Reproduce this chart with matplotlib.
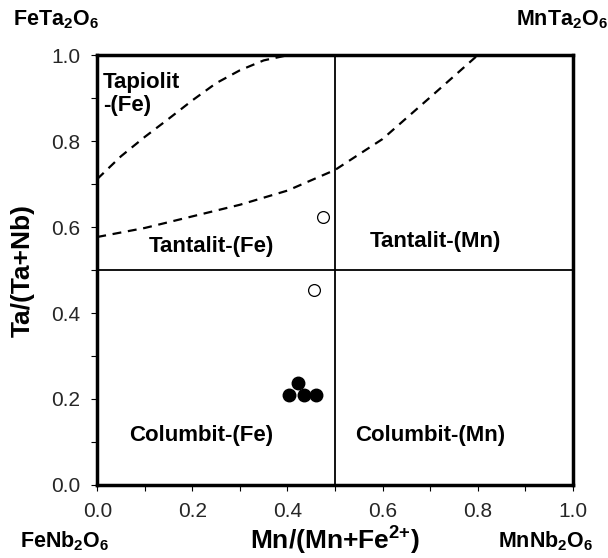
import matplotlib
matplotlib.use("Agg")
import matplotlib.pyplot as plt
import numpy as np
from matplotlib.ticker import MultipleLocator

plt.rcParams['font.family'] = ['Liberation Sans', 'DejaVu Sans']
plt.rcParams['mathtext.fontset'] = 'custom'
plt.rcParams['mathtext.rm'] = 'Liberation Sans'
plt.rcParams['mathtext.bf'] = 'Liberation Sans:bold'

# samples
filled_x = [0.403, 0.422, 0.435, 0.46]
filled_y = [0.209, 0.237, 0.209, 0.209]
open_x = [0.475, 0.456]
open_y = [0.623, 0.453]

# field boundaries (dashed)
upper_x = [0.0, 0.05, 0.1, 0.15, 0.2, 0.25, 0.3, 0.35, 0.40]
upper_y = [0.712, 0.765, 0.81, 0.852, 0.895, 0.935, 0.965, 0.988, 1.0]
lower_x = [0.0, 0.1, 0.2, 0.3, 0.4, 0.5, 0.6, 0.7, 0.8]
lower_y = [0.577, 0.598, 0.625, 0.652, 0.685, 0.733, 0.805, 0.902, 1.0]

fig = plt.figure(figsize=(6.08, 5.58), dpi=100)
ax = fig.add_axes([0.16, 0.131, 0.782, 0.77])

ax.plot(upper_x, upper_y, 'k--', lw=1.6, dashes=(4, 3))
ax.plot(lower_x, lower_y, 'k--', lw=1.6, dashes=(4, 3))
ax.axvline(0.5, color='k', lw=1.3)
ax.axhline(0.5, color='k', lw=1.3)

ax.plot(filled_x, filled_y, 'o', color='k', ms=9, zorder=5)
ax.plot(open_x, open_y, 'o', mfc='white', mec='k', mew=0.9, ms=8.5, zorder=5)

ax.set_xlim(0, 1)
ax.set_ylim(0, 1)
ax.xaxis.set_major_locator(MultipleLocator(0.2))
ax.yaxis.set_major_locator(MultipleLocator(0.2))
ax.xaxis.set_minor_locator(MultipleLocator(0.1))
ax.yaxis.set_minor_locator(MultipleLocator(0.1))
ax.xaxis.set_major_formatter(lambda v, p: f"{v:.1f}")
ax.yaxis.set_major_formatter(lambda v, p: f"{v:.1f}")
ax.tick_params(which='both', direction='out', length=4, width=0.8, labelsize=15, colors='k')
ax.tick_params(labelcolor='#262626', pad=8)
for s in ax.spines.values():
    s.set_linewidth(2.5)

ax.set_xlabel(r'Mn/(Mn+Fe$^{\mathbf{2{+}}}$)', fontsize=19, fontweight='bold', labelpad=2)
ax.set_ylabel('Ta/(Ta+Nb)', fontsize=19, fontweight='bold', labelpad=12)

kw = dict(fontsize=16, fontweight='bold', ha='center', va='center')
ax.text(0.012, 0.962, 'Tapiolit\n-(Fe)', fontsize=16, fontweight='bold', ha='left', va='top', linespacing=1.15)
ax.text(0.241, 0.556, 'Tantalit-(Fe)', **kw)
ax.text(0.712, 0.567, 'Tantalit-(Mn)', **kw)
ax.text(0.218, 0.114, 'Columbit-(Fe)', **kw)
ax.text(0.70, 0.114, 'Columbit-(Mn)', **kw)

ck = dict(fontsize=15.5, ha='center', va='center')
fig.text(56 / 608, 1 - 20 / 558, r'$\mathbf{FeTa_2O_6}$', **ck)
fig.text(562 / 608, 1 - 20 / 558, r'$\mathbf{MnTa_2O_6}$', **ck)
fig.text(65 / 608, 1 - 541 / 558, r'$\mathbf{FeNb_2O_6}$', **ck)
fig.text(546 / 608, 1 - 541 / 558, r'$\mathbf{MnNb_2O_6}$', **ck)

fig.savefig('out.png', dpi=100)
